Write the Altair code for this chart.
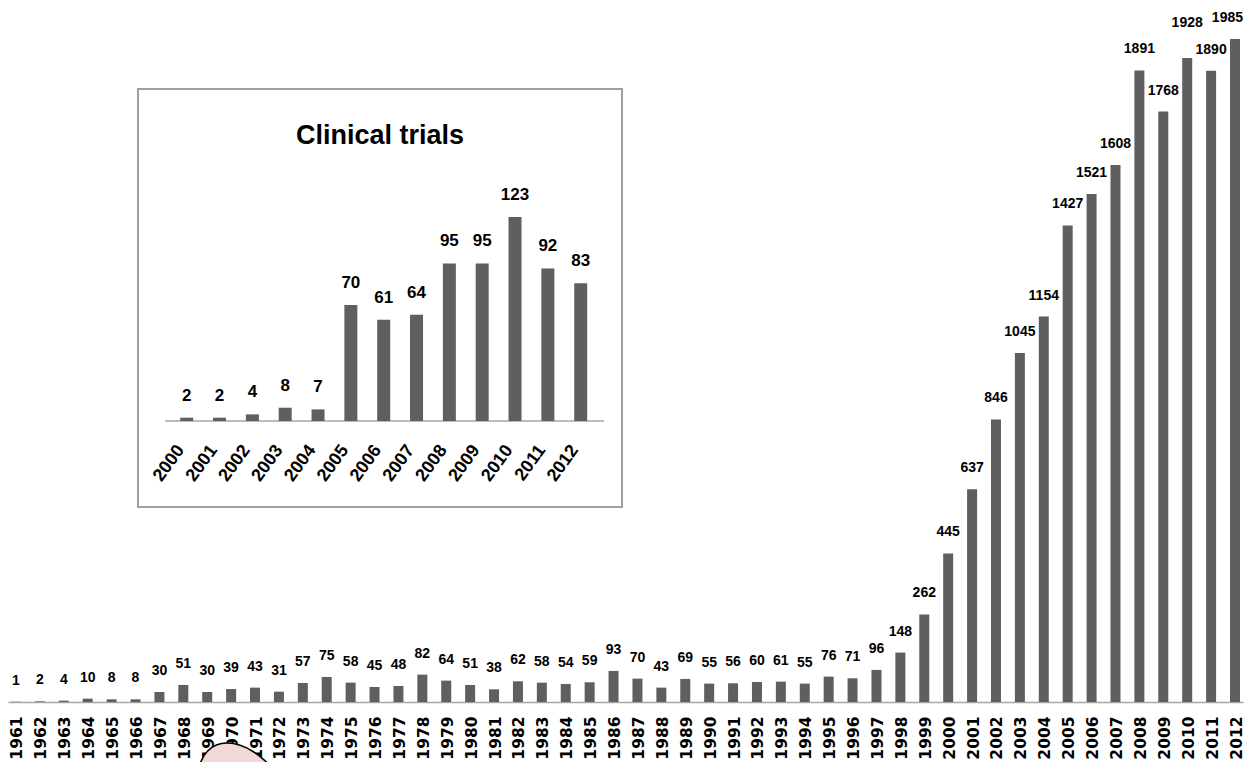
import altair as alt
import pandas as pd

# ---- main chart data ----
years = [str(y) for y in range(1961, 2013)]
counts = [1, 2, 4, 10, 8, 8, 30, 51, 30, 39, 43, 31, 57, 75, 58, 45, 48, 82, 64, 51,
          38, 62, 58, 54, 59, 93, 70, 43, 69, 55, 56, 60, 61, 55, 76, 71, 96, 148, 262,
          445, 637, 846, 1045, 1154, 1427, 1521, 1608, 1891, 1768, 1928, 1890, 1985]

# ---- inset data ----
trial_years = [2000, 2001, 2002, 2003, 2004, 2005, 2006, 2007, 2008, 2009, 2010, 2011, 2012]
trial_counts = [2, 2, 4, 8, 7, 70, 61, 64, 95, 95, 123, 92, 83]
inset_title = ["Clinical trials"]

main_df = pd.DataFrame({"year": years, "count": counts})
inset_df = pd.DataFrame({"year": trial_years, "count": trial_counts,
                         "label": [str(y) for y in trial_years]})
title_df = pd.DataFrame({"t": inset_title})
one = pd.DataFrame({"k": [0]})

BAR = "#5f5f5f"
FONT = "Liberation Sans, Arial, sans-serif"

xs = alt.Scale(paddingInner=0.5816, paddingOuter=0.1255)
ys = alt.Scale(domain=[0, 2078], nice=False, zero=True)

bars = alt.Chart(main_df).mark_bar(color=BAR).encode(
    x=alt.X("year:O", scale=xs, sort=None, title=None,
            axis=alt.Axis(labelAngle=-90, labelFont="DejaVu Sans", labelFontWeight="bold",
                          labelFontSize=15.5, labelColor="black", ticks=False, tickSize=0,
                          labelPadding=14, labelOffset=1.5, domainColor="#a6a6a6",
                          domainWidth=1.5, labelOverlap=False)),
    y=alt.Y("count:Q", scale=ys, axis=None),
)


def value_labels(flt, **kw):
    opts = dict(font=FONT, fontWeight="bold", fontSize=14, baseline="middle",
                align="center", dy=-21, color="black")
    opts.update(kw)
    return alt.Chart(main_df).transform_filter(flt).mark_text(**opts).encode(
        x=alt.X("year:O", scale=xs, sort=None),
        y=alt.Y("count:Q", scale=ys),
        text="count:Q",
    )


labels = value_labels("datum.year != '2010' && datum.year != '2012'")
label_2010 = value_labels("datum.year == '2010'", dy=-35)
label_2012 = value_labels("datum.year == '2012'", align="right", dx=8)

blob_path = ("M -0.84 0 C -0.8 -0.4 -0.56 -0.62 -0.26 -0.62 "
             "C 0.1 -0.62 0.4 -0.4 0.9 0.12 L 0.9 0.4 L -0.9 0.4 Z")
blob = alt.Chart(one).mark_point(shape=blob_path, size=10000, filled=True,
                                 fill="#f3d8d9", stroke="black", strokeWidth=1.5,
                                 opacity=1, fillOpacity=1).encode(
    x=alt.value(232), y=alt.value(766))

main = alt.layer(bars, labels, label_2010, label_2012, blob)

# ---- inset ----
ixs = alt.Scale(domain=[2000, 2012], range=[173.7, 577.7], nice=False, zero=False)
iys = alt.Scale(domain=[0, 123], range=[413, 209], nice=False, zero=True)

border = alt.Chart(one).mark_rect(fill="white", stroke="#a0a0a0", strokeWidth=2).encode(
    x=alt.value(130), x2=alt.value(614), y=alt.value(81), y2=alt.value(499))
base = alt.Chart(one).mark_rule(color="#a6a6a6", strokeWidth=1.5).encode(
    x=alt.value(157), x2=alt.value(596), y=alt.value(413))
ibars = alt.Chart(inset_df).mark_bar(color=BAR, size=13, orient="vertical").encode(
    x=alt.X("year:Q", scale=ixs, axis=None),
    y=alt.Y("count:Q", scale=iys, axis=None),
)
ilabels = alt.Chart(inset_df).mark_text(font=FONT, fontWeight="bold", fontSize=17,
                                        baseline="middle", align="center", dy=-22,
                                        color="black").encode(
    x=alt.X("year:Q", scale=ixs),
    y=alt.Y("count:Q", scale=iys),
    text="count:Q",
)
iyears = alt.Chart(inset_df).mark_text(font=FONT, fontWeight="bold", fontSize=18,
                                       align="right", baseline="middle", angle=306,
                                       dx=-2, dy=-5.7, color="black").encode(
    x=alt.X("year:Q", scale=ixs),
    y=alt.value(441),
    text="label:N",
)
ititle = alt.Chart(title_df).mark_text(font=FONT, fontWeight="bold", fontSize=27,
                                       align="center", baseline="middle",
                                       color="black").encode(
    x=alt.value(372), y=alt.value(128), text="t:N")

inset = alt.layer(border, base, ibars, ilabels, iyears, ititle)

chart = alt.layer(main, inset).resolve_scale(x="independent", y="independent").properties(
    width=1235, height=694,
    autosize=alt.AutoSizeParams(type="none"),
    padding={"left": 0, "top": 0, "right": 1, "bottom": 60},
).configure_view(stroke=None)

chart.save("out.html", embed_options={"renderer": "svg", "actions": False})
